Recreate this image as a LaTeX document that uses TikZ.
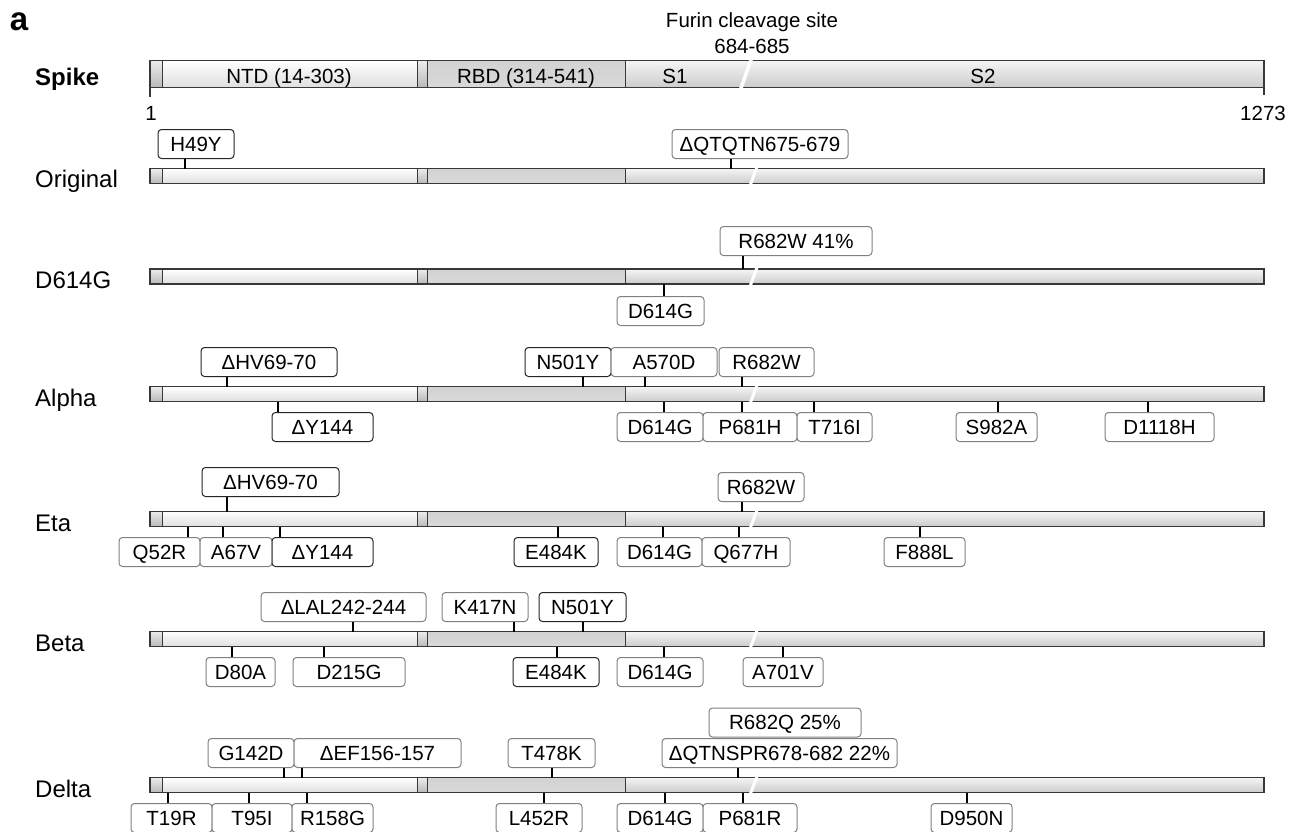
\documentclass[tikz,border=0pt]{standalone}
\usepackage{fontspec}
\setmainfont{Liberation Sans}
\usepackage{xcolor}
\usepackage{tikz}
\usetikzlibrary{calc,positioning}

\colorlet{mutgray}{black!50}
\colorlet{mutdark}{black!85}
\colorlet{barline}{black!78}

\tikzset{
  mut/.style={draw=mutgray, fill=white, rounded corners=3.5pt, line width=1pt,
    inner xsep=0pt, inner ysep=0pt, minimum height=29pt,
    text height=14.6pt, text depth=0pt, font=\fontsize{20.5}{24}\selectfont},
  tick/.style={line width=1.8pt},
  rowlabel/.style={anchor=west, inner sep=0pt, text height=17pt, text depth=0pt,
    font=\fontsize{24}{28}\selectfont},
  domlabel/.style={inner sep=0pt, text height=14.6pt, text depth=0pt,
    font=\fontsize{20.5}{24}\selectfont},
}

% protein bar: #1 = top, #2 = height
\newcommand{\protbar}[2]{%
  \shade[top color=gray!15, bottom color=gray!55] (150,#1) rectangle (162,#1+#2);
  \shade[top color=white, bottom color=gray!25] (162,#1) rectangle (417,#1+#2);
  \shade[top color=gray!15, bottom color=gray!55] (417,#1) rectangle (427,#1+#2);
  \shade[top color=gray!35, middle color=gray!68, bottom color=gray!30]
    (427,#1) rectangle (625,#1+#2);
  \shade[top color=gray!8, bottom color=gray!40] (625,#1) rectangle (1264,#1+#2);
  \draw[barline, line width=1.5pt] (150,#1) rectangle (1264,#1+#2);
  \foreach \d in {162,417,427,625}
    \draw[barline, line width=1pt] (\d,#1) -- (\d,#1+#2);
}

\begin{document}
\begin{tikzpicture}[x=1pt, y=-1pt]
  \useasboundingbox (0,0) rectangle (1289,831);

  \node[font=\fontsize{33}{36}\selectfont\bfseries, inner sep=0pt] (panel) at (19,22) {a};

  % Spike domains
  \protbar{60.5}{27}
  \draw[white, line width=3.5pt] (752,57) -- (740,91);
  \node[rowlabel, font=\fontsize{24}{28}\selectfont\bfseries] (lspike) at (35,76.5) {Spike};
  \node[domlabel] (ntd) at (289,76) {NTD (14-303)};
  \node[domlabel] (rbd) at (526,76) {RBD (314-541)};
  \node[domlabel] (s1) at (675,76) {S1};
  \node[domlabel] (s2) at (983,76) {S2};
  \node[domlabel] (furin) at (752,20) {Furin cleavage site};
  \node[domlabel] (furinpos) at (752,46) {684-685};
  \coordinate (nterm) at (150,87.5);
  \coordinate (cterm) at (1264,87.5);
  \node[domlabel] (first) at (151,113) {1};
  \node[domlabel] (last) at (1263,113) {1273};
  \draw[barline, line width=1.2pt] (nterm) -- ++(0,9.5);
  \draw[barline, line width=1.2pt] (cterm) -- ++(0,7.5);

  % Original
  \protbar{168.5}{15}
  \draw[white, line width=3pt] (757,167) -- (750,186);
  \node[rowlabel] (lorig) at (35,179) {Original};
  \foreach \tx/\bl/\br/\bc/\txt in {185/158/234/mutdark/H49Y,
      731/672/848/mutgray/ΔQTQTN675-679} {
    \coordinate (t) at (\tx,168.5);
    \node[mut, draw=\bc, minimum width={\br-\bl}, anchor=south] (m) at ({(\bl+\br)/2},159) {\txt};
    \draw[tick] (t) -- (t |- m.south);
  }

  % D614G
  \protbar{269}{15}
  \draw[white, line width=3pt] (757,267.5) -- (750,286.5);
  \node[rowlabel] (ld614g) at (35,280) {D614G};
  \foreach \tx/\bl/\br/\bc/\txt in {743/720/872/mutgray/R682W 41\%} {
    \coordinate (t) at (\tx,269);
    \node[mut, draw=\bc, minimum width={\br-\bl}, anchor=south] (m) at ({(\bl+\br)/2},256) {\txt};
    \draw[tick] (t) -- (t |- m.south);
  }
  \foreach \tx/\bl/\br/\bc/\txt in {664/617/704/mutgray/D614G} {
    \coordinate (t) at (\tx,284);
    \node[mut, draw=\bc, minimum width={\br-\bl}, anchor=north] (m) at ({(\bl+\br)/2},296) {\txt};
    \draw[tick] (t) -- (t |- m.north);
  }

  % Alpha
  \protbar{386.5}{15}
  \draw[white, line width=3pt] (757,385) -- (750,404);
  \node[rowlabel] (lalpha) at (35,397.5) {Alpha};
  \foreach \tx/\bl/\br/\bc/\txt in {227/201/337/mutdark/ΔHV69-70,
      583/525/611/mutdark/N501Y, 645/611/717/mutgray/A570D,
      742/719/814/mutgray/R682W} {
    \coordinate (t) at (\tx,386.5);
    \node[mut, draw=\bc, minimum width={\br-\bl}, anchor=south] (m) at ({(\bl+\br)/2},377) {\txt};
    \draw[tick] (t) -- (t |- m.south);
  }
  \foreach \tx/\bl/\br/\bc/\txt in {278/272/373/mutdark/ΔY144,
      664/617/703/mutgray/D614G, 742/703/797/mutgray/P681H,
      814/797/872/mutgray/T716I, 998/956/1037/mutgray/S982A,
      1148/1105/1214/mutgray/D1118H} {
    \coordinate (t) at (\tx,401.5);
    \node[mut, draw=\bc, minimum width={\br-\bl}, anchor=north] (m) at ({(\bl+\br)/2},412) {\txt};
    \draw[tick] (t) -- (t |- m.north);
  }

  % Eta
  \protbar{511.5}{15}
  \draw[white, line width=3pt] (757,510) -- (750,529);
  \node[rowlabel] (leta) at (35,522.5) {Eta};
  \coordinate (tHV) at (227,511.5);
  \node[mut, draw=mutdark, minimum width=137, anchor=south] (etaHV) at (270.5,497) {ΔHV69-70};
  \draw[tick] (tHV) -- (tHV |- etaHV.south);
  \foreach \tx/\bl/\br/\bc/\txt in {742/718/804/mutgray/R682W} {
    \coordinate (t) at (\tx,511.5);
    \node[mut, draw=\bc, minimum width={\br-\bl}, anchor=south] (m) at ({(\bl+\br)/2},502) {\txt};
    \draw[tick] (t) -- (t |- m.south);
  }
  \foreach \tx/\bl/\br/\bc/\txt in {188/119/200/mutgray/Q52R,
      223/200/272/mutgray/A67V, 280/272/373/mutdark/ΔY144,
      558/514/598/mutdark/E484K, 663/617/702/mutgray/D614G,
      739/702/790/mutgray/Q677H, 920/884/965/mutgray/F888L} {
    \coordinate (t) at (\tx,526.5);
    \node[mut, draw=\bc, minimum width={\br-\bl}, anchor=north] (m) at ({(\bl+\br)/2},537) {\txt};
    \draw[tick] (t) -- (t |- m.north);
  }

  % Beta
  \protbar{631.5}{15}
  \draw[white, line width=3pt] (757,630) -- (750,649);
  \node[rowlabel] (lbeta) at (35,642.5) {Beta};
  \foreach \tx/\bl/\br/\bc/\txt in {353/261/426/mutgray/ΔLAL242-244,
      514/442/528/mutgray/K417N, 583/539/626/mutdark/N501Y} {
    \coordinate (t) at (\tx,631.5);
    \node[mut, draw=\bc, minimum width={\br-\bl}, anchor=south] (m) at ({(\bl+\br)/2},622) {\txt};
    \draw[tick] (t) -- (t |- m.south);
  }
  \foreach \tx/\bl/\br/\bc/\txt in {232/206/275/mutgray/D80A,
      324/293/405/mutgray/D215G, 557/513/599/mutdark/E484K,
      664/617/703/mutgray/D614G, 783/743/823/mutgray/A701V} {
    \coordinate (t) at (\tx,646.5);
    \node[mut, draw=\bc, minimum width={\br-\bl}, anchor=north] (m) at ({(\bl+\br)/2},657) {\txt};
    \draw[tick] (t) -- (t |- m.north);
  }

  % Delta
  \protbar{777.5}{15}
  \draw[white, line width=3pt] (757,776) -- (750,795);
  \node[rowlabel] (ldelta) at (35,788.5) {Delta};
  \foreach \tx/\bl/\br/\bc/\txt in {284/208/294/mutgray/G142D,
      302/294/461/mutgray/ΔEF156-157, 552/508/595/mutgray/T478K,
      738/662/897/mutgray/ΔQTNSPR678-682 22\%} {
    \coordinate (t) at (\tx,777.5);
    \node[mut, draw=\bc, minimum width={\br-\bl}, anchor=south] (m) at ({(\bl+\br)/2},768) {\txt};
    \draw[tick] (t) -- (t |- m.south);
  }
  \node[mut, minimum width=152, anchor=south] (r682q) at (785,737.5) {R682Q 25\%};
  \foreach \tx/\bl/\br/\bc/\txt in {168/131/212/mutgray/T19R,
      249/212/292/mutgray/T95I, 307/292/373/mutgray/R158G,
      544/496/582/mutgray/L452R, 665/617/703/mutgray/D614G,
      743/703/797/mutgray/P681R, 967/931/1012/mutgray/D950N} {
    \coordinate (t) at (\tx,792.5);
    \node[mut, draw=\bc, minimum width={\br-\bl}, anchor=north] (m) at ({(\bl+\br)/2},803) {\txt};
    \draw[tick] (t) -- (t |- m.north);
  }
\end{tikzpicture}
\end{document}
